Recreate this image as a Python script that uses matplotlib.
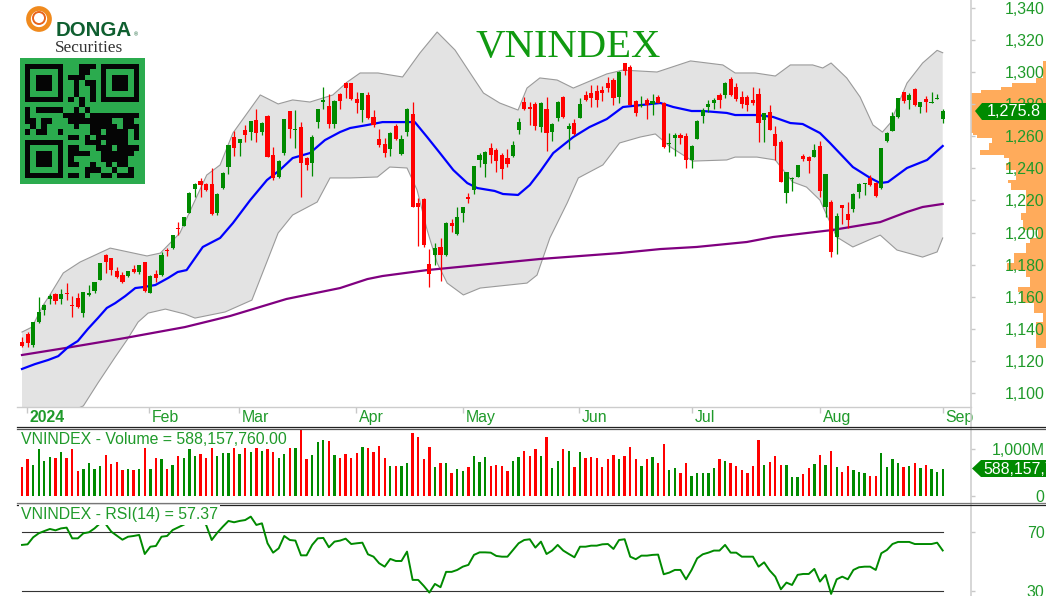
import matplotlib
matplotlib.use("Agg")
import matplotlib.pyplot as plt
import numpy as np
from matplotlib.colors import ListedColormap
from matplotlib.patches import Circle, Polygon

plt.rcParams["font.family"] = ["Liberation Sans", "DejaVu Sans"]

W, H = 1046, 596
STEP = 5.58
RED = "#ff0000"
GREEN = "#008a00"
TXT = "#1f9a2a"
FS = 11.4

opens = [1131.6, 1136.8, 1129.9, 1144.4, 1151.7, 1158.6, 1161.7, 1158.4, 1162.1, 1154.4,
         1159.4, 1149.6, 1161.3, 1163.8, 1170.4, 1185.8, 1183.9, 1175.8, 1173.5, 1172.7,
         1177.0, 1175.4, 1181.4, 1162.5, 1174.2, 1173.3, 1188.7, 1190.1, 1203.0, 1204.1,
         1212.4, 1227.1, 1232.3, 1230.0, 1230.0, 1212.4, 1227.9, 1241.0, 1259.7, 1255.5,
         1263.9, 1262.8, 1270.1, 1262.6, 1272.8, 1248.3, 1234.8, 1249.7, 1275.9, 1263.6,
         1266.0, 1246.2, 1243.1, 1269.1, 1281.5, 1278.8, 1267.4, 1286.1, 1293.0, 1292.9,
         1283.0, 1276.3, 1285.7, 1271.7, 1258.2, 1254.9, 1251.8, 1266.3, 1248.9, 1262.8,
         1273.8, 1218.2, 1220.9, 1180.4, 1186.0, 1190.7, 1186.0, 1206.1, 1199.1, 1211.9,
         1222.3, 1226.5, 1245.2, 1242.7, 1252.9, 1251.4, 1248.3, 1246.2, 1247.7, 1263.9,
         1281.5, 1278.0, 1280.1, 1265.5, 1276.7, 1262.8, 1271.1, 1284.6, 1264.3, 1268.4,
         1271.1, 1285.7, 1287.1, 1288.2, 1288.8, 1292.9, 1295.0, 1284.2, 1305.8, 1302.9,
         1282.1, 1279.0, 1282.5, 1279.8, 1284.2, 1280.5, 1255.3, 1258.7, 1260.5, 1260.3,
         1245.2, 1258.2, 1272.8, 1278.0, 1280.9, 1285.7, 1285.7, 1295.4, 1290.9, 1284.6,
         1284.2, 1282.5, 1286.1, 1270.1, 1275.3, 1261.1, 1256.6, 1224.8, 1233.1, 1234.8,
         1247.9, 1247.2, 1246.8, 1254.1, 1215.7, 1219.2, 1197.4, 1217.1, 1211.5, 1214.4,
         1225.4, 1230.0, 1233.7, 1230.6, 1227.5, 1257.2, 1263.4, 1272.2, 1287.3, 1282.5,
         1289.4, 1278.0, 1283.2, 1280.9, 1283.2, 1270.7]
closes = [1129.1, 1130.9, 1144.0, 1150.7, 1154.6, 1160.6, 1157.5, 1161.7, 1161.9, 1154.2,
          1153.4, 1162.7, 1162.5, 1169.2, 1181.2, 1181.8, 1176.6, 1172.5, 1169.4, 1175.8,
          1175.2, 1179.7, 1163.6, 1173.1, 1171.7, 1186.0, 1188.3, 1198.2, 1202.2, 1209.4,
          1224.8, 1230.0, 1229.4, 1226.5, 1211.3, 1224.0, 1237.3, 1254.3, 1252.4, 1258.3,
          1260.7, 1269.7, 1262.2, 1268.4, 1247.2, 1233.7, 1244.8, 1270.5, 1264.3, 1264.3,
          1243.1, 1242.1, 1259.7, 1276.7, 1282.6, 1267.4, 1282.1, 1282.1, 1289.8, 1283.0,
          1280.9, 1286.7, 1271.1, 1267.0, 1254.5, 1249.7, 1262.2, 1258.0, 1258.5, 1276.7,
          1216.1, 1215.7, 1192.2, 1174.1, 1190.1, 1186.0, 1205.7, 1204.2, 1209.4, 1216.1,
          1220.7, 1241.4, 1248.3, 1250.4, 1248.3, 1244.5, 1239.6, 1242.7, 1254.5, 1268.6,
          1276.7, 1277.2, 1266.3, 1280.9, 1261.8, 1267.6, 1281.5, 1271.7, 1266.3, 1261.4,
          1280.1, 1282.5, 1283.6, 1282.5, 1286.7, 1289.8, 1283.6, 1300.2, 1300.8, 1279.4,
          1274.2, 1279.4, 1279.4, 1281.9, 1280.9, 1253.5, 1256.0, 1260.7, 1259.1, 1245.2,
          1254.1, 1269.7, 1276.3, 1279.8, 1282.5, 1282.5, 1293.3, 1285.7, 1283.0, 1280.1,
          1279.4, 1280.5, 1268.0, 1274.7, 1263.9, 1253.9, 1231.7, 1237.9, 1233.7, 1242.0,
          1245.8, 1244.5, 1251.4, 1226.05, 1236.4, 1187.6, 1210.3, 1215.5, 1207.8, 1224.0,
          1230.2, 1230.6, 1229.6, 1222.7, 1252.4, 1261.8, 1272.6, 1284.0, 1282.1, 1285.7,
          1279.4, 1281.1, 1281.1, 1281.3, 1283.8, 1275.8]
highs = [1134.7, 1138.2, 1144.4, 1159.6, 1155.4, 1161.7, 1162.5, 1164.6, 1168.3, 1160.6,
         1162.5, 1163.1, 1167.3, 1169.4, 1181.2, 1186.6, 1183.9, 1178.7, 1175.6, 1175.8,
         1179.7, 1179.7, 1181.8, 1173.5, 1176.6, 1188.1, 1190.1, 1198.4, 1206.7, 1209.4,
         1225.4, 1230.6, 1233.7, 1231.0, 1240.0, 1224.8, 1237.9, 1254.3, 1263.4, 1258.3,
         1267.0, 1269.7, 1276.7, 1269.1, 1273.2, 1253.1, 1245.2, 1270.5, 1275.9, 1276.3,
         1269.1, 1247.2, 1260.7, 1276.7, 1290.9, 1286.1, 1282.6, 1287.1, 1294.0, 1292.9,
         1287.7, 1287.1, 1287.7, 1276.3, 1264.3, 1258.7, 1262.4, 1267.6, 1260.7, 1277.4,
         1281.5, 1221.3, 1221.3, 1189.7, 1193.2, 1196.4, 1206.7, 1208.2, 1215.7, 1216.1,
         1224.8, 1241.4, 1249.3, 1250.8, 1256.0, 1252.4, 1249.3, 1251.8, 1257.0, 1271.1,
         1284.6, 1281.5, 1281.5, 1281.5, 1284.2, 1268.0, 1281.9, 1285.0, 1268.4, 1270.5,
         1283.6, 1288.4, 1291.9, 1291.9, 1291.3, 1297.1, 1296.0, 1300.8, 1305.8, 1304.4,
         1282.5, 1285.2, 1283.6, 1286.3, 1285.7, 1281.5, 1261.8, 1261.8, 1261.8, 1261.8,
         1254.5, 1270.1, 1277.4, 1282.5, 1284.0, 1287.1, 1294.0, 1296.7, 1292.9, 1288.4,
         1285.7, 1290.9, 1289.8, 1274.7, 1279.4, 1266.3, 1257.6, 1237.9, 1234.8, 1242.0,
         1248.9, 1247.7, 1254.9, 1257.0, 1236.4, 1220.2, 1211.9, 1217.1, 1218.8, 1224.4,
         1230.6, 1230.6, 1235.8, 1231.7, 1252.4, 1262.8, 1275.3, 1284.0, 1287.7, 1286.7,
         1289.8, 1281.5, 1285.0, 1287.3, 1286.3, 1276.7]
lows = [1128.5, 1128.5, 1128.5, 1143.8, 1148.6, 1155.4, 1155.4, 1155.4, 1157.9, 1147.2,
        1152.8, 1147.6, 1160.4, 1162.1, 1170.4, 1175.0, 1173.5, 1171.9, 1168.3, 1172.5,
        1174.6, 1173.9, 1163.1, 1162.1, 1169.4, 1172.9, 1185.4, 1189.5, 1198.4, 1204.1,
        1212.0, 1222.3, 1222.3, 1226.1, 1210.9, 1210.9, 1226.9, 1236.4, 1247.9, 1247.9,
        1256.6, 1257.6, 1256.6, 1260.7, 1247.2, 1232.7, 1233.7, 1248.3, 1258.7, 1252.4,
        1222.3, 1238.9, 1235.4, 1264.9, 1276.7, 1264.9, 1264.9, 1276.7, 1283.6, 1282.5,
        1274.2, 1269.0, 1270.7, 1265.5, 1253.5, 1246.8, 1247.7, 1257.6, 1248.3, 1260.1,
        1216.1, 1191.6, 1191.2, 1165.8, 1179.7, 1170.0, 1185.3, 1200.5, 1198.4, 1206.7,
        1218.6, 1224.0, 1240.6, 1234.8, 1243.5, 1237.5, 1233.3, 1241.0, 1247.2, 1261.4,
        1276.3, 1267.0, 1263.9, 1262.8, 1251.0, 1257.2, 1269.5, 1271.3, 1251.8, 1260.9,
        1271.1, 1282.1, 1278.4, 1278.4, 1282.1, 1287.3, 1279.4, 1280.9, 1298.1, 1279.4,
        1272.6, 1278.4, 1270.7, 1273.2, 1280.5, 1252.4, 1250.4, 1247.7, 1254.9, 1240.4,
        1240.4, 1258.0, 1268.0, 1275.3, 1276.7, 1277.8, 1283.6, 1285.2, 1282.1, 1277.4,
        1275.9, 1279.4, 1256.6, 1256.6, 1263.9, 1245.2, 1231.2, 1218.6, 1226.05, 1234.4,
        1244.7, 1236.9, 1246.8, 1222.3, 1209.9, 1184.9, 1186.6, 1205.1, 1203.0, 1213.0,
        1221.3, 1223.4, 1229.0, 1222.3, 1227.1, 1256.6, 1263.2, 1271.5, 1280.9, 1276.7,
        1279.0, 1274.7, 1275.3, 1280.5, 1283.0, 1268.4]
volumes = [628, 786, 664, 1014, 757, 828, 807, 950, 807, 1014, 543, 578, 714, 571, 650, 871,
           686, 736, 557, 571, 557, 578, 1021, 578, 807, 786, 571, 664, 857, 807, 1000, 857,
           900, 807, 1021, 857, 914, 921, 1021, 900, 1021, 950, 1021, 971, 1007, 950, 807,
           900, 1036, 1021, 1414, 786, 878, 1150, 1200, 1178, 878, 807, 900, 807, 928, 1043,
           1021, 950, 1071, 807, 650, 650, 650, 714, 1343, 1257, 786, 1043, 628, 700, 700,
           486, 578, 536, 628, 857, 721, 828, 650, 664,
           650, 536, 757, 828, 971, 857, 1014, 857, 1271, 600, 757, 1000, 971, 628, 950, 807,
           828, 807, 628, 786, 878, 786, 857, 1043, 786, 650, 786, 828, 714, 1114, 557, 600,
           486, 700, 436, 486, 500, 486, 600, 786, 757, 700, 650, 557, 486, 650, 1200, 664,
           736, 857, 664, 664, 400, 400, 464, 600, 686, 878, 664, 971, 614, 507, 650, 557,
           507, 486, 436, 436, 928, 614, 786, 714, 614, 650, 700, 600, 664, 571, 507, 588]
rsi = [61.1, 61.5, 66.2, 68.9, 70.4, 71.8, 70.9, 72.2, 72.7, 65.5, 65.5, 68.9, 69.6, 72.2,
       75.6, 75.1, 70.0, 67.3, 64.6, 66.6, 67.1, 67.8, 55.0, 59.9, 60.4, 66.6, 67.1, 71.1,
       72.9, 74.7, 76.7, 77.4, 77.8, 74.5, 64.4, 69.3, 73.4, 77.2, 76.3, 77.2, 77.8, 80.1,
       74.5, 75.6, 62.2, 55.9, 58.8, 67.1, 64.4, 64.0, 54.1, 54.1, 61.1, 65.5, 65.8, 59.5,
       63.3, 64.0, 65.3, 61.7, 62.2, 62.6, 54.8, 53.2, 48.8, 46.5, 51.7, 50.3, 50.3, 56.6,
       37.6, 37.6, 33.6, 29.1, 34.9, 32.7, 43.0, 43.0, 44.3, 46.5, 47.7, 54.4, 56.1, 56.1,
       55.9, 53.7,
       53.2, 53.2, 57.7, 62.2, 64.4, 64.9, 59.3, 63.3, 55.0, 57.3, 61.1, 57.3, 55.0, 52.8,
       59.9, 59.9, 60.6, 60.6, 61.5, 61.7, 58.4, 64.4, 64.9, 53.2, 51.5, 53.9, 53.9, 54.4,
       54.6, 41.4, 42.5, 44.3, 44.3, 38.0, 44.3, 52.1, 54.8, 55.9, 57.3, 57.3, 61.1, 55.9,
       55.9, 53.2, 53.2, 53.2, 46.5, 49.4, 43.9, 39.8, 31.3, 35.8, 34.2, 41.0, 41.6, 41.6,
       45.0, 36.5, 41.0, 28.2, 38.0, 39.8, 38.0, 44.3, 46.1, 46.5, 46.5, 44.3, 55.5, 57.7,
       61.7, 63.1, 63.1, 63.1, 61.7, 61.7, 61.7, 61.7, 62.6, 57.37]

ma20_idx = [0, 2.3, 4.7, 6.5, 8.3, 10, 11.8, 13.6, 15.2, 16.7, 18.5, 20.3, 21.7, 23.9, 26.2,
            27.9, 29.5, 32.4, 35.5, 37.8, 40.9, 43.9, 46.2, 48.5, 51.6, 54.3, 57, 58.8, 61.9,
            64.6, 70.4, 72.6, 74.9, 77.3, 79.8, 81.6, 84.7, 86.2, 88.9, 91, 92.8, 95.2, 98.8,
            101.7, 104.8, 107.7, 114.4, 116.7, 120, 122, 126.3, 127.8, 131.7, 134.6, 137.7,
            139.9, 143, 144.8, 148.9, 152, 153.8, 155.2, 158.6, 162.2, 165]
ma20_val = [1115, 1118, 1120.6, 1123, 1128.7, 1132.4, 1139.9, 1146.7, 1153, 1156, 1160.4, 1165.4,
            1166, 1167.3, 1171.7, 1175.4, 1176.6, 1191, 1196.6, 1205.9, 1220.2, 1232.7, 1238.9,
            1246.4, 1249.5, 1257.6, 1262.6, 1265.1, 1267, 1268.8, 1268.8, 1259.5, 1249.5,
            1238.9, 1230.8, 1227.7, 1225.9, 1224, 1223.4, 1229.6, 1237.7, 1249.5, 1259.5,
            1265.7, 1270.7, 1278.2, 1280.7, 1278.2, 1275.7, 1275.7, 1274.5, 1273.2, 1273.2,
            1272, 1268.2, 1267.6, 1262, 1255.8, 1240.8, 1234, 1230.8, 1231.5, 1240.2, 1245.2,
            1253.9]
ma200_idx = [0, 7.7, 18.5, 29.2, 37.3, 47.4, 57, 61.9, 64.6, 72.6, 92.8, 107.1, 114.4, 120.9,
             129.9, 134.6, 145.3, 153.8, 158.6, 161.4, 165]
ma200_val = [1123.7, 1128, 1134.3, 1141.1, 1148, 1158.6, 1165.4, 1171, 1172.9, 1176.6, 1183.5,
             1187.2, 1189.7, 1191, 1194.1, 1197.2, 1201.6, 1206.5, 1212.8, 1215.9, 1217.8]
upper_idx = [0, 1.8, 3.8, 5, 7.4, 10.4, 15.8, 22.4, 24.8, 28.3, 33.1, 35.5, 37.8, 42.7, 45.9, 48.5,
             51.6, 55.7, 58.3, 60.6, 63.8, 68.2, 71.3, 74.4, 77.6, 80.9, 82.7, 85.6, 88.9, 90.5,
             92.8, 95.9, 98.8, 104.8, 107.7, 113.8, 119.8, 125.6, 127.8, 131.4, 135, 137.7, 141.7,
             143.5, 145, 147.8, 150.2, 152.5, 154.2, 155.6, 158.6, 161.4, 164, 165]
upper_val = [1138, 1141.1, 1154.8, 1161.1, 1174.8, 1181.6, 1190.3, 1185.4, 1187.2, 1199.7, 1235.8,
             1242.1, 1262, 1285.7, 1280.1, 1282.6, 1281.3, 1285.7, 1293.8, 1299.4, 1299.4, 1296.9,
             1311.8, 1324.9, 1313.7, 1296.3, 1286.9, 1280.7, 1276.3, 1290, 1296.3, 1295, 1290,
             1298.8, 1301.2, 1300, 1306.9, 1304.4, 1299.4, 1299.4, 1297.5, 1304.4, 1304.4, 1302.5,
             1305.6, 1296.3, 1284.4, 1267, 1262.6, 1268.2, 1293.1, 1305.6, 1313.5, 1312]
lower_idx = [0, 11, 13.6, 16.7, 18.8, 20.8, 22.6, 25.7, 29.2, 31, 36.4, 41.2, 44.5, 45.9, 48.5,
             52.9, 55.2, 58.8, 63.7, 65.9, 69, 70.8, 72.6, 74.4, 76.2, 79.1, 82.1, 90.5, 92.3, 94.6,
             97.7, 99.7, 104.1, 107.1, 110.8, 113.5, 116.2, 120.2, 126.3, 127.8, 131.7, 135,
             138.1, 140.6, 143, 146, 148.9, 153.8, 156.8, 161.4, 164, 165]
lower_val = [1075, 1092, 1106.2, 1122.4, 1133, 1144.2, 1149.8, 1152.3, 1149.2, 1146.7, 1150.5,
             1157.9, 1187.2, 1199.7, 1210.9, 1219, 1234, 1234, 1234.6, 1240.8, 1240.2, 1226.5,
             1201.6, 1181, 1168.5, 1161.1, 1165.4, 1168.5, 1173.5, 1196.6, 1218.4, 1234, 1242.1,
             1255.8, 1259.5, 1261.4, 1253.3, 1244.5, 1245.2, 1247, 1247, 1245.2, 1231.5, 1228.3,
             1220.2, 1197.2, 1191, 1198.4, 1189.1, 1184.7, 1187.9, 1196.6]

profile_price = [1306.9, 1296.3, 1293, 1290.5, 1288.8, 1287, 1261.8, 1260.7, 1258.7, 1255.6,
                 1251.4, 1248.3, 1246.2, 1243, 1238.9, 1232.7, 1230.7, 1226.5, 1212, 1207.8,
                 1201.6, 1196.4, 1193.3, 1187, 1180.8, 1176.6, 1172.5, 1166.2, 1163.1, 1155.9,
                 1149.7, 1144.4, 1135.1, 1127.8]
profile_pct = [4.5, 13.5, 45, 60.5, 87, 100, 98, 92, 72, 76,
               88, 56, 49, 54, 40, 51, 47, 27, 34, 31,
               11, 22, 27, 43, 52, 27, 22, 38, 34, 16,
               4.5, 13.5, 13.5, 0]

price_ticks = np.arange(1100, 1341, 20)
month_pos = [0.9, 22.8, 38.9, 59.9, 79, 99.8, 120.1, 143, 165]
month_labels = ["2024", "Feb", "Mar", "Apr", "May", "Jun", "Jul", "Aug", "Sep"]

qr_rows = [
    "111111100011101111111",
    "100000100011001000001",
    "101110101110001011101",
    "101110100101101011101",
    "101110100100101011101",
    "100000100100101000001",
    "111111101010101111111",
    "000000000010000000000",
    "101111100101000000000",
    "100000011110111111111",
    "110110001111111100110",
    "010100000100111110111",
    "101100100000110111101",
    "000000001101011111101",
    "111111100001110111100",
    "100000101100011101111",
    "101110101111001111110",
    "101110101000001111100",
    "101110101100100101100",
    "100000100001110010010",
    "111111101101001101110",
]


def panel(y0, y1, x1=971):
    return [0, 1 - y1 / H, x1 / W, (y1 - y0) / H]


fig = plt.figure(figsize=(W / 100, H / 100), dpi=100, facecolor="white")
xlim = (-22 / STEP, 949 / STEP)
price_lim = (1091.3, 1344.86)

# volume profile, under the price labels
prof = fig.add_axes([971 / W, 1 - 407 / H, 75 / W, 407 / H])
prof.fill_betweenx(profile_price, 0, profile_pct, step="post", color="#ffab5b", lw=0)
prof.set_xlim(100, 0)
prof.set_ylim(*price_lim)
prof.axis("off")

# price panel
ax = fig.add_axes(panel(0, 407), facecolor="none")
band_x = upper_idx + lower_idx[::-1]
band_y = upper_val + lower_val[::-1]
ax.fill(band_x, band_y, facecolor="#e3e3e3", edgecolor="none", zorder=1)
ax.plot(upper_idx, upper_val, color="#9a9a9a", lw=0.8, zorder=1.5)
ax.plot(lower_idx, lower_val, color="#9a9a9a", lw=0.8, zorder=1.5)
ax.plot(ma200_idx, ma200_val, color="#800080", lw=1.6, zorder=2)
ax.plot(ma20_idx, ma20_val, color="#0000ff", lw=1.6, zorder=2)

idx = np.arange(len(closes))
cols = [RED if c < o else GREEN for o, c in zip(opens, closes)]
ax.vlines(idx, lows, highs, colors=cols, lw=0.9, zorder=3)
body_low = np.minimum(opens, closes)
body_h = np.abs(np.array(opens) - np.array(closes))
ax.bar(idx, np.maximum(body_h, 0.6), bottom=body_low, width=0.74, color=cols, lw=0, zorder=4)

ax.set_xlim(*xlim)
ax.set_ylim(*price_lim)
ax.yaxis.tick_right()
ax.set_yticks(price_ticks)
ax.set_yticklabels([f"{p:,}" for p in price_ticks], color=TXT, fontsize=FS)
ax.tick_params(axis="y", length=3, width=1, color="#c8c8c8", pad=21)
ax.set_xticks(month_pos)
ax.set_xticklabels([])
ax.tick_params(axis="x", length=4.3, width=1, color="#c8c8c8")
for s in ax.spines.values():
    s.set_visible(False)
for pos, lab in zip(month_pos, month_labels):
    ax.annotate(lab, (pos, 0), xycoords=ax.get_xaxis_transform(), xytext=(2, -2),
                textcoords="offset points", va="top", ha="left", color=TXT, fontsize=FS,
                fontweight="bold" if lab == "2024" else "normal", annotation_clip=False)

# volume panel
vax = fig.add_axes(panel(430, 502), facecolor="none")
vax.bar(idx, volumes, width=0.42, color=cols, lw=0)
vax.set_xlim(*xlim)
vax.set_ylim(-128, 1413)
vax.set_xticks([])
vax.yaxis.tick_right()
vax.set_yticks([0, 1000])
vax.set_yticklabels(["0", "1,000M"], color=TXT, fontsize=FS, ha="right")
vax.tick_params(axis="y", length=3, width=1, color="#c8c8c8", pad=50)
for s in vax.spines.values():
    s.set_visible(False)

# rsi panel
rax = fig.add_axes(panel(505, 596), facecolor="none")
rax.plot([0, 165], [70, 70], color="#333333", lw=0.8)
rax.plot([0, 165], [30, 30], color="#333333", lw=0.8)
rax.plot(idx, rsi, color=GREEN, lw=1.4)
rax.set_xlim(*xlim)
rax.set_ylim(26.8, 87.9)
rax.set_xticks([])
rax.yaxis.tick_right()
rax.set_yticks([30, 70])
rax.set_yticklabels(["30", "70"], color=TXT, fontsize=FS, ha="right")
rax.tick_params(axis="y", length=3, width=1, color="#c8c8c8", pad=50)
for s in rax.spines.values():
    s.set_visible(False)

# everything else in pixel coordinates
top = fig.add_axes([0, 0, 1, 1], facecolor="none")
top.set_xlim(0, W)
top.set_ylim(H, 0)
top.axis("off")
top.plot([17, 971], [407, 407], color="#cccccc", lw=1)
top.plot([971, 971], [0, H], color="#cfcfcf", lw=1.2)
for y, c in [(427, "#222222"), (429, "#555555"), (503, "#777777"), (505, "#222222")]:
    top.plot([17, W], [y, y], color=c, lw=0.9)

top.text(568, 47, "VNINDEX", family="Liberation Serif", fontsize=29.3, color="#109a10",
         ha="center", va="center")
top.text(21, 440, "VNINDEX - Volume = 588,157,760.00", color=TXT, fontsize=FS, va="center",
         bbox=dict(fc="white", ec="none", pad=0.5))
top.text(21, 515, "VNINDEX - RSI(14) = 57.37", color=TXT, fontsize=FS, va="center",
         bbox=dict(fc="white", ec="none", pad=1.5))

top.add_patch(Polygon([(975, 111), (982, 103), (1046, 103), (1046, 120), (982, 120)],
                      fc=GREEN, ec="none"))
top.text(987, 111.5, "1,275.8", color="white", fontsize=11.6, va="center")
top.add_patch(Polygon([(972, 468.5), (981, 460), (1046, 460), (1046, 477), (981, 477)],
                      fc=GREEN, ec="none"))
top.text(983, 469, "588,157,760", color="white", fontsize=FS, va="center", clip_on=True)

# logo
top.add_patch(Circle((39, 19), 10.5, fc="none", ec="#f08a1d", lw=3.4))
top.add_patch(Circle((39, 18), 6, fc="none", ec="#e8641b", lw=1.4))
top.text(56, 31, "DONGA", color="#0f5f30", fontsize=14.8, fontweight="bold", va="center")
top.text(134, 35, "®", color="#0f5f30", fontsize=4, va="center")
top.text(55, 48, "Securities", family="Liberation Serif", color="#333333", fontsize=12.4,
         va="center")

# qr code
qr = np.array([[int(ch) for ch in row] for row in qr_rows])
top.add_patch(Polygon([(20, 58), (145, 58), (145, 184), (20, 184)], fc="#2bab4e", ec="none"))
top.imshow(qr, extent=(25.3, 138.7, 178, 64.7), cmap=ListedColormap(["#2bab4e", "#050505"]),
           interpolation="nearest", aspect="auto", zorder=3)
top.set_xlim(0, W)
top.set_ylim(H, 0)

fig.savefig("out.png", dpi=100)
